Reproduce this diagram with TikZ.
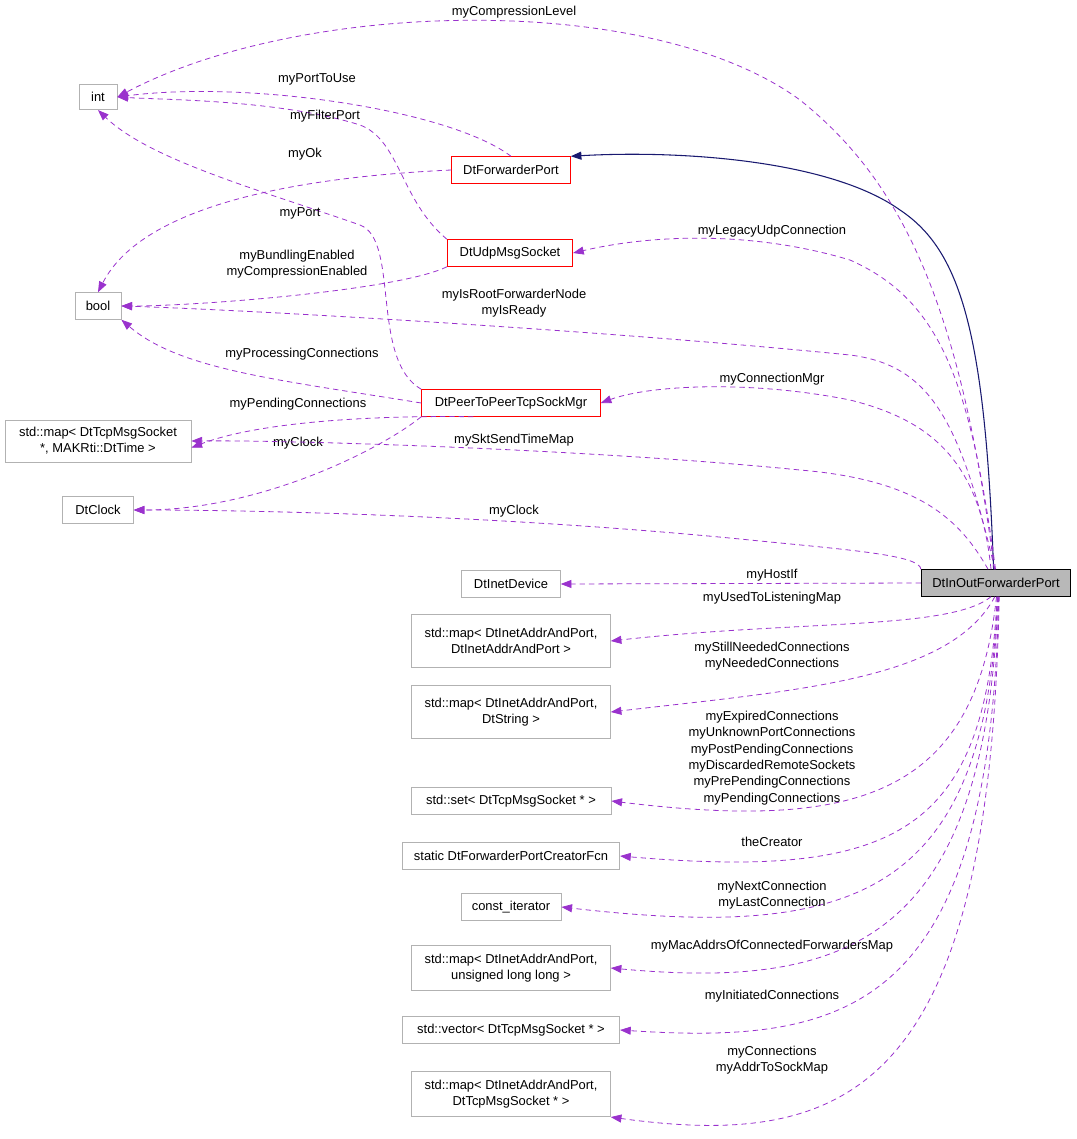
\documentclass[tikz,border=0pt]{standalone}
\usepackage{fontspec}
\setmainfont{Liberation Sans}
\usetikzlibrary{arrows.meta}
\definecolor{purp}{HTML}{9A32CD}
\definecolor{navy}{HTML}{191970}
\begin{document}
\begin{tikzpicture}[x=0.75pt,y=-0.75pt,
  every node/.style={font=\fontsize{9.7}{12.2}\selectfont},
  box/.style={draw=black!30,line width=0.6pt,inner sep=0pt,align=center},
  red/.style={box,draw=red},
  mem/.style={draw=purp,dashed,line width=0.6pt,-{Triangle[length=8pt,width=6pt]},dash pattern=on 4pt off 3pt},
  lab/.style={align=center,inner sep=0pt}]
\useasboundingbox (0,0) rectangle (1077,1139);
\node[box,minimum width=28.5pt,minimum height=19pt] (int) at (98,97) {int};
\node[box,minimum width=34.5pt,minimum height=20pt] (bool) at (98,306) {bool};
\node[box,minimum width=139.5pt,minimum height=31.5pt] (map1) at (98,441) {std::map< DtTcpMsgSocket\\ *, MAKRti::DtTime >};
\node[box,minimum width=53pt,minimum height=20pt] (clock) at (98,510) {DtClock};
\node[red,minimum width=89pt,minimum height=20pt] (fwd) at (511,170) {DtForwarderPort};
\node[red,minimum width=94pt,minimum height=20pt] (udp) at (510,253) {DtUdpMsgSocket};
\node[red,minimum width=134pt,minimum height=20pt] (p2p) at (511,403) {DtPeerToPeerTcpSockMgr};
\node[box,draw=black,fill=black!28,minimum width=112pt,minimum height=20pt] (io) at (996,583) {DtInOutForwarderPort};
\node[box,minimum width=74pt,minimum height=20pt] (inet) at (511,584) {DtInetDevice};
\node[box,minimum width=149pt,minimum height=40pt] (m2) at (511,641) {std::map< DtInetAddrAndPort,\\ DtInetAddrAndPort >};
\node[box,minimum width=149pt,minimum height=40pt] (m3) at (511,712) {std::map< DtInetAddrAndPort,\\ DtString >};
\node[box,minimum width=150pt,minimum height=20pt] (set) at (511,801) {std::set< DtTcpMsgSocket * >};
\node[box,minimum width=163pt,minimum height=20pt] (crt) at (511,856) {static DtForwarderPortCreatorFcn};
\node[box,minimum width=75pt,minimum height=20pt] (cit) at (511,907) {const\_iterator};
\node[box,minimum width=149pt,minimum height=34pt] (m4) at (511,968) {std::map< DtInetAddrAndPort,\\ unsigned long long >};
\node[box,minimum width=163pt,minimum height=20pt] (vec) at (511,1030) {std::vector< DtTcpMsgSocket * >};
\node[box,minimum width=149pt,minimum height=34pt] (m5) at (511,1094) {std::map< DtInetAddrAndPort,\\ DtTcpMsgSocket * >};

\draw[navy,line width=0.8pt,-{Triangle[length=8pt,width=6pt]}] (io.100) .. controls (985,330) and (960,250) .. (900,210) .. controls (830,160) and (680,150) .. (fwd.north east);

\draw[mem] (io.97) .. controls (960,300) and (900,180) .. (800,100) .. controls (650,-10) and (300,0) .. (int.east);
\node[lab] at (514,12) {myCompressionLevel};
\draw[mem] (fwd.north) .. controls (450,110) and (250,80) .. (int.east);
\node[lab] at (317,79) {myPortToUse};
\draw[mem] (udp.north west) .. controls (400,200) and (400,140) .. (360,125) .. controls (280,100) and (170,100) .. (int.east);
\node[lab] at (325,116) {myFilterPort};
\draw[mem] (fwd.west) .. controls (280,178) and (140,210) .. (bool.north);
\node[lab] at (305,154) {myOk};
\draw[mem] (p2p.north west) .. controls (370,360) and (400,240) .. (360,225) .. controls (260,190) and (150,160) .. (int.south);
\node[lab] at (300,213) {myPort};
\draw[mem] (udp.south west) .. controls (400,290) and (200,306) .. (bool.east);
\node[lab] at (297,264) {myBundlingEnabled\\myCompressionEnabled};
\draw[mem] (io.95) .. controls (960,420) and (930,365) .. (850,355) .. controls (600,330) and (250,310) .. (bool.east);
\node[lab] at (514,303) {myIsRootForwarderNode\\myIsReady};
\draw[mem] (p2p.west) .. controls (280,380) and (180,370) .. (bool.south east);
\node[lab] at (302,354) {myProcessingConnections};
\draw[mem] (p2p.200) .. controls (350,415) and (250,425) .. ([yshift=-5pt]map1.east);
\node[lab] at (298,404) {myPendingConnections};
\draw[mem] (p2p.south west) .. controls (380,450) and (260,510) .. (clock.east);
\node[lab] at (298,443) {myClock};
\draw[mem] (io.92) .. controls (970,380) and (940,300) .. (850,260) .. controls (750,230) and (650,235) .. (udp.east);
\node[lab] at (772,231) {myLegacyUdpConnection};
\draw[mem] (io.110) .. controls (980,460) and (930,420) .. (850,400) .. controls (750,380) and (650,385) .. (p2p.east);
\node[lab] at (772,379) {myConnectionMgr};
\draw[mem] (io.120) .. controls (960,520) and (920,480) .. (800,470) .. controls (600,450) and (300,440) .. (map1.east);
\node[lab] at (514,440) {mySktSendTimeMap};
\draw[mem] (io.north west) .. controls (920,555) and (850,550) .. (750,540) .. controls (500,515) and (250,510) .. (clock.east);
\node[lab] at (514,511) {myClock};
\draw[mem] (io.west) -- (inet.east);
\node[lab] at (772,575) {myHostIf};
\draw[mem] (io.250) .. controls (950,630) and (800,620) .. (m2.east);
\node[lab] at (772,598) {myUsedToListeningMap};
\draw[mem] (io.265) .. controls (950,680) and (800,690) .. (m3.east);
\node[lab] at (772,656) {myStillNeededConnections\\myNeededConnections};
\draw[mem] (io.272) .. controls (975,800) and (850,830) .. (set.east);
\node[lab] at (772,758) {myExpiredConnections\\myUnknownPortConnections\\myPostPendingConnections\\myDiscardedRemoteSockets\\myPrePendingConnections\\myPendingConnections};
\draw[mem] (io.275) .. controls (985,830) and (900,880) .. (crt.east);
\node[lab] at (772,842) {theCreator};
\draw[mem] (io.277) .. controls (985,900) and (850,940) .. (cit.east);
\node[lab] at (772,895) {myNextConnection\\myLastConnection};
\draw[mem] (io.279) .. controls (985,940) and (850,990) .. (m4.east);
\node[lab] at (772,946) {myMacAddrsOfConnectedForwardersMap};
\draw[mem] (io.281) .. controls (990,1010) and (850,1045) .. (vec.east);
\node[lab] at (772,996) {myInitiatedConnections};
\draw[mem] (io.283) .. controls (990,1090) and (850,1150) .. (m5.south east);
\node[lab] at (772,1060) {myConnections\\myAddrToSockMap};
\end{tikzpicture}
\end{document}
